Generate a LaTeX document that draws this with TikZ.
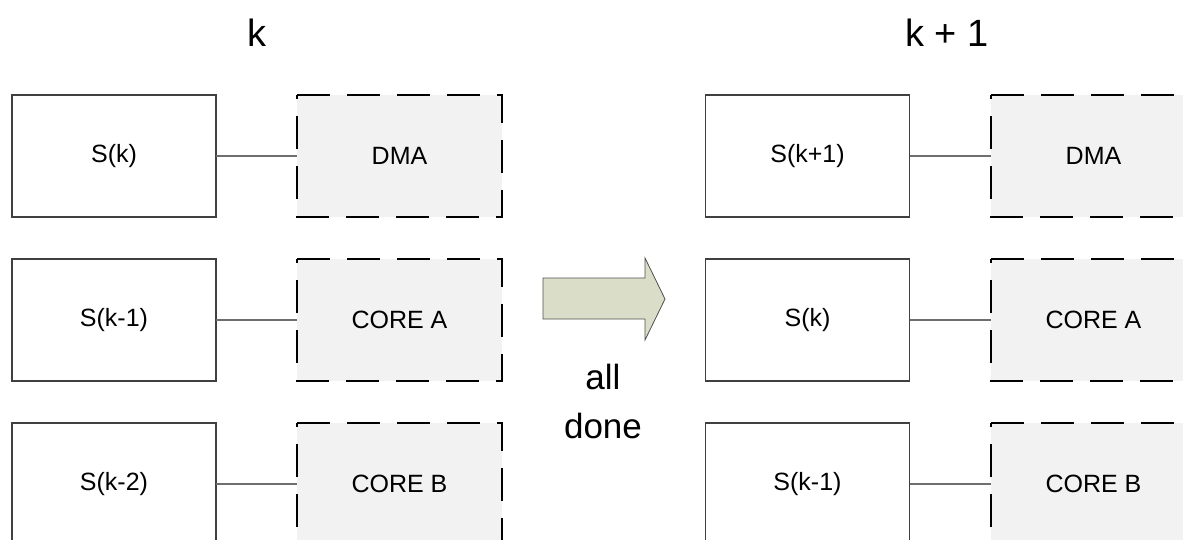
\documentclass[tikz,border=0pt]{standalone}
\usepackage{fontspec}
\setmainfont{Liberation Sans}
\begin{document}
\begin{tikzpicture}[x=1pt,y=-1pt,
  statebox/.style={draw={rgb,255:red,64;green,64;blue,64}, line width=1.1pt, fill=white,
    minimum width=204pt, minimum height=122pt, inner sep=0pt, outer sep=0pt,
    font=\fontsize{25}{30}\selectfont},
  unitbox/.style={draw=none, fill={rgb,255:red,242;green,242;blue,242},
    minimum width=205pt, minimum height=122pt, inner sep=0pt, outer sep=0pt,
    font=\fontsize{25}{30}\selectfont},
  unitborder/.style={draw=black, line width=2.5pt, dash pattern=on 33pt off 17pt},
  link/.style={draw={rgb,255:red,110;green,110;blue,110}, line width=1.2pt},
  title/.style={anchor=base, font=\fontsize{38}{44}\selectfont},
]
\useasboundingbox (0,0) rectangle (1183,540);
\clip (0,0) rectangle (1183,540);

% column titles
\node[title] (tk)  at (257,47) {k};
\node[title] (tk1) at (947,47) {k + 1};

% time step k
\node[statebox] (s1) at (114,156) {S(k)};
\node[statebox] (s2) at (114,320) {S(k-1)};
\node[statebox] (s3) at (114,484) {S(k-2)};
\node[unitbox] (u1) at (399.5,156) {DMA};
\node[unitbox] (u2) at (399.5,320) {CORE A};
\node[unitbox] (u3) at (399.5,484) {CORE B};

% time step k+1
\node[statebox] (r1) at (807.5,156) {S(k+1)};
\node[statebox] (r2) at (807.5,320) {S(k)};
\node[statebox] (r3) at (807.5,484) {S(k-1)};
\node[unitbox] (v1) at (1093.5,156) {DMA};
\node[unitbox] (v2) at (1093.5,320) {CORE A};
\node[unitbox] (v3) at (1093.5,484) {CORE B};

% dashed outlines of the processing units
\foreach \u in {u1,u2,u3,v1,v2,v3}{
  \draw[unitborder] (\u.north west) -- (\u.north east) -- (\u.south east)
    -- (\u.south west) -- cycle;
}

% links between buffers and units
\foreach \a/\b in {s1/u1,s2/u2,s3/u3,r1/v1,r2/v2,r3/v3}{
  \draw[link] (\a.east) -- (\b.west);
}

% transition arrow
\draw[draw={rgb,255:red,80;green,80;blue,80}, line width=0.8pt,
      fill={rgb,255:red,218;green,222;blue,200}]
  (543,278) -- (645,278) -- (645,258) -- (665,299) -- (645,340)
  -- (645,319) -- (543,319) -- cycle;
\node[align=center, font=\fontsize{35}{49}\selectfont] (done) at (603,401) {all\\done};
\end{tikzpicture}
\end{document}
